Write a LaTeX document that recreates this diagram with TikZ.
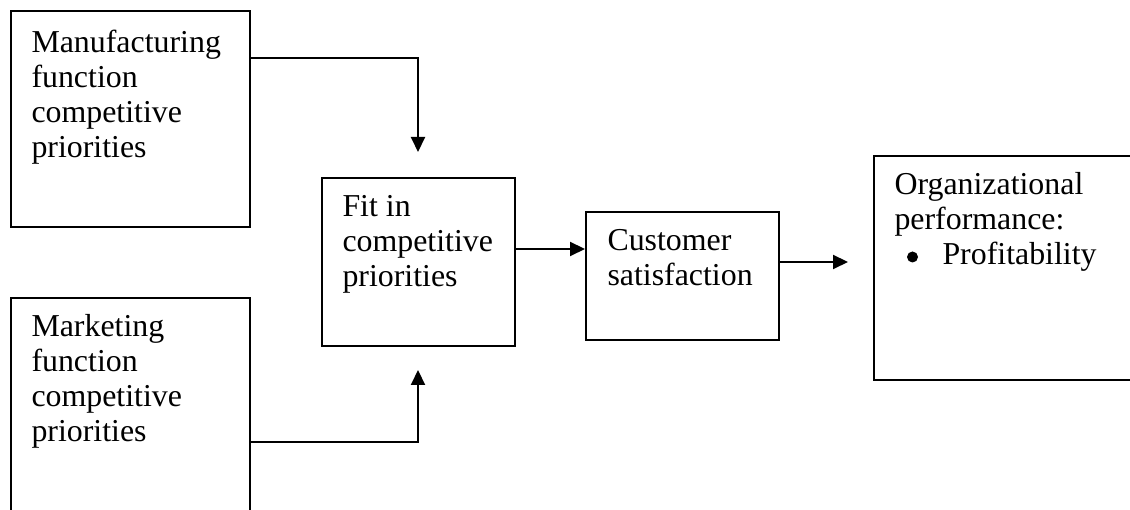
\documentclass[tikz,border=0pt]{standalone}
\usepackage{fontspec}
\setmainfont{Liberation Serif}
\usetikzlibrary{arrows.meta}
\tikzset{
  box/.style={draw, line width=0.8pt, rectangle, inner sep=0pt, anchor=north west},
  txt/.style={inner sep=0pt, anchor=base west, font=\fontsize{12.75pt}{14pt}\selectfont},
  arr/.style={line width=0.8pt, -{Triangle[length=6pt,width=5.6pt]}},
  line/.style={line width=0.8pt}
}
\newcommand{\bigbul}{\tikz[baseline=0pt]{\path (0,0); \fill (2.2pt,3.2pt) circle (2.2pt);}}
\begin{document}
\begin{tikzpicture}[x=0.4pt,y=-0.4pt]
\useasboundingbox (0,0) rectangle (1130,510);
% boxes
\node[box, minimum width=95.6pt, minimum height=86.4pt] (b1) at (10,10) {};
\node[box, minimum width=95.6pt, minimum height=89.2pt] (b2) at (10,297) {};
\node[box, minimum width=77.2pt, minimum height=67.2pt] (b3) at (321,177) {};
\node[box, minimum width=77.2pt, minimum height=51.2pt] (b4) at (585,211) {};
\node[box, minimum width=106.8pt, minimum height=89.6pt] (b5) at (873,155) {};
% texts
\node[txt] (t1) at (31,53) {\parbox[t]{90pt}{\raggedright Manufacturing\\function\\competitive\\priorities}};
\node[txt] (t2) at (31,337) {\parbox[t]{90pt}{\raggedright Marketing\\function\\competitive\\priorities}};
\node[txt] (t3) at (342,217) {\parbox[t]{70pt}{\raggedright Fit in\\competitive\\priorities}};
\node[txt] (t4) at (607,251) {\parbox[t]{70pt}{\raggedright Customer\\satisfaction}};
\node[txt] (t5) at (894,195) {\parbox[t]{100pt}{\raggedright Organizational\\performance:\\\hspace*{5pt}\makebox[14.2pt][l]{\bigbul}Profitability}};
% tips
\coordinate (p1) at (418,152);
\coordinate (p2) at (418,370);
\coordinate (p4) at (848,262);
% connectors
\draw[arr] (b1.east |- 0,58) -| (p1);
\draw[arr] (b2.east |- 0,442) -| (p2);
\draw[arr] (b3.east |- 0,249) -- (b4.west |- 0,249);
\draw[arr] (b4.east |- 0,262) -- (p4);
\end{tikzpicture}
\end{document}
